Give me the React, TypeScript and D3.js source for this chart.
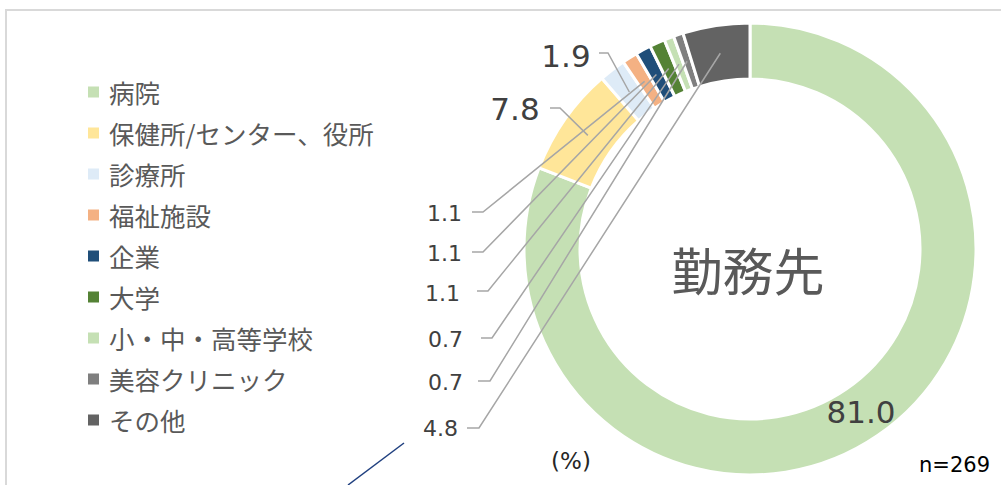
import * as d3 from "d3";
import { useEffect, useRef } from "react";

const categories = ["病院", "保健所/センター、役所", "診療所", "福祉施設", "企業", "大学", "小・中・高等学校", "美容クリニック", "その他"];
const values = [81.0, 7.8, 1.9, 1.1, 1.1, 1.1, 0.7, 0.7, 4.8];
const valueLabels = ["81.0", "7.8", "1.9", "1.1", "1.1", "1.1", "0.7", "0.7", "4.8"];
const colors = ["#C5E0B4", "#FFE699", "#DEEBF7", "#F4B183", "#1F4E79", "#548235", "#C5E0B4", "#7F7F7F", "#636363"];

// label placement (Excel style manual layout)
const labelLayout = [
  { x: 861, y: 412, anchor: "middle", size: 31, leader: null },
  { x: 515, y: 109, anchor: "middle", size: 31, leader: [550, 560, 108] },
  { x: 566, y: 56, anchor: "middle", size: 31, leader: [599, 608, 53] },
  { x: 462, y: 213, anchor: "end", size: 22, leader: [472, 483, 212] },
  { x: 462, y: 253, anchor: "end", size: 22, leader: [472, 483, 252] },
  { x: 460, y: 293, anchor: "end", size: 22, leader: [477, 488, 291] },
  { x: 463, y: 339, anchor: "end", size: 22, leader: [481, 492, 338] },
  { x: 463, y: 382, anchor: "end", size: 22, leader: [478, 490, 381] },
  { x: 458, y: 428, anchor: "end", size: 22, leader: [467, 479, 428] },
];

const numFont = "'DejaVu Sans', Verdana, sans-serif";
const jpFont = "'Noto Sans CJK JP', 'Noto Sans', sans-serif";

export default function App() {
  const ref = useRef<SVGSVGElement>(null);

  useEffect(() => {
    const width = 1001;
    const height = 485;
    const cx = 750;
    const cy = 249;

    const svg = d3.select(ref.current);
    svg.selectAll("*").remove();
    svg.attr("width", width).attr("height", height);

    // frame
    svg.append("path")
      .attr("d", `M6,${height} V10 H${width}`)
      .attr("fill", "none")
      .attr("stroke", "#D9D9D9")
      .attr("stroke-width", 2);

    const pie = d3.pie<number>().sort(null).value(d => d);
    const arcs = pie(values);
    const arc = d3.arc<d3.PieArcDatum<number>>().innerRadius(170).outerRadius(226);
    const mid = d3.arc<d3.PieArcDatum<number>>().innerRadius(198).outerRadius(198);

    const g = svg.append("g").attr("transform", `translate(${cx},${cy})`);
    g.selectAll("path.slice")
      .data(arcs)
      .enter()
      .append("path")
      .attr("class", "slice")
      .attr("d", arc)
      .attr("fill", (_, i) => colors[i])
      .attr("stroke", "#fff")
      .attr("stroke-width", 3);

    // leader lines
    arcs.forEach((a, i) => {
      const L = labelLayout[i];
      if (!L.leader) return;
      const [c0, c1] = mid.centroid(a);
      const [x0, x1, ly] = L.leader;
      svg.append("path")
        .attr("d", `M${x0},${ly} H${x1} L${cx + c0},${cy + c1}`)
        .attr("fill", "none")
        .attr("stroke", "#A6A6A6")
        .attr("stroke-width", 1.5);
    });

    // value labels
    labelLayout.forEach((L, i) => {
      svg.append("text")
        .attr("x", L.x)
        .attr("y", L.y)
        .attr("text-anchor", L.anchor)
        .attr("dominant-baseline", "central")
        .attr("font-family", numFont)
        .attr("font-size", L.size)
        .attr("fill", "#404040")
        .text(valueLabels[i]);
    });

    // center title
    svg.append("text")
      .attr("x", 748)
      .attr("y", 291)
      .attr("text-anchor", "middle")
      .attr("font-family", jpFont)
      .attr("font-size", 51)
      .attr("fill", "#595959")
      .text("勤務先");

    // legend
    const legend = svg.append("g");
    categories.forEach((c, i) => {
      const y = 92 + i * 41;
      legend.append("rect")
        .attr("x", 88).attr("y", y - 5.5)
        .attr("width", 11).attr("height", 11)
        .attr("fill", colors[i]);
      legend.append("text")
        .attr("x", 109).attr("y", y - 1)
        .attr("dominant-baseline", "central")
        .attr("font-family", jpFont)
        .attr("font-size", 25.5)
        .attr("fill", "#595959")
        .text(c);
    });

    svg.append("text")
      .attr("x", 571).attr("y", 461)
      .attr("text-anchor", "middle")
      .attr("dominant-baseline", "central")
      .attr("font-family", numFont)
      .attr("font-size", 23)
      .attr("fill", "#262626")
      .text("(%)");

    svg.append("text")
      .attr("x", 990).attr("y", 465)
      .attr("text-anchor", "end")
      .attr("dominant-baseline", "central")
      .attr("font-family", numFont)
      .attr("font-size", 21)
      .attr("fill", "#000")
      .text("n=269");

    // stray connector line at the bottom left
    svg.append("line")
      .attr("x1", 404).attr("y1", 443)
      .attr("x2", 348).attr("y2", 485)
      .attr("stroke", "#1F3F7F")
      .attr("stroke-width", 1.5);
  }, []);

  return <svg ref={ref} style={{ position: "absolute", left: 0, top: 0 }} />;
}
